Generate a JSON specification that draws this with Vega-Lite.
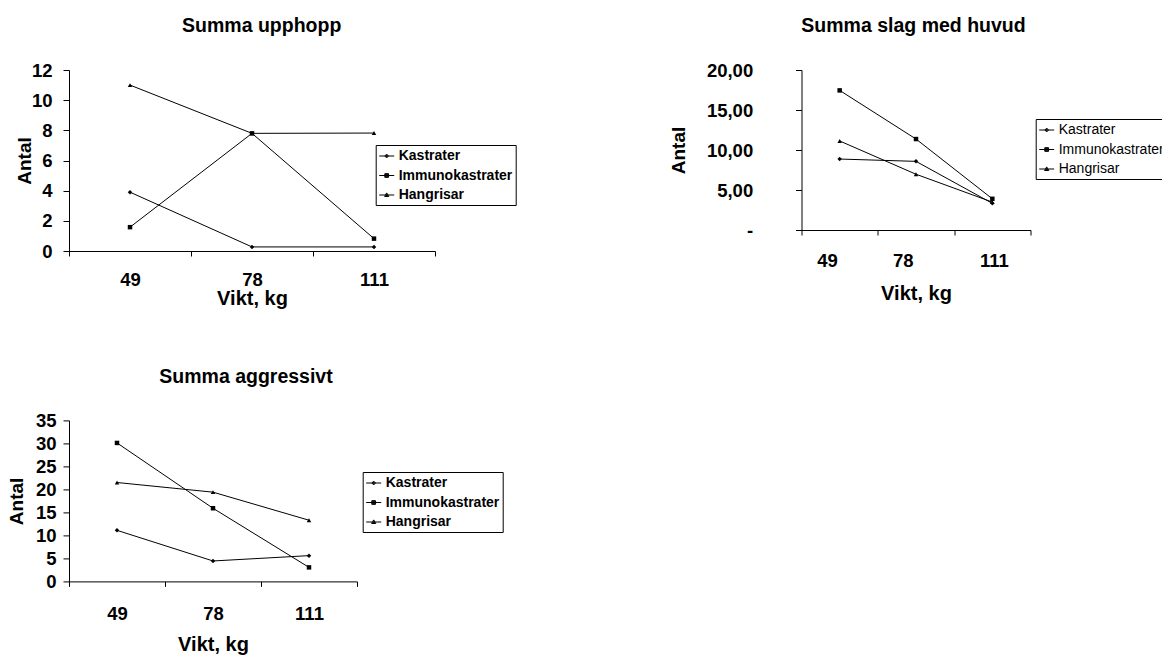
{
  "$schema": "https://vega.github.io/schema/vega-lite/v6.json",
  "background": "white",
  "padding": {"left": 7, "top": 15, "right": 0, "bottom": 0},
  "bounds": "flush",
  "spacing": 732.5,
  "resolve": {"scale": {"shape": "independent"}, "legend": {"shape": "independent"}},
  "config": {
    "font": "Liberation Sans",
    "view": {"stroke": null},
    "axis": {
      "domainColor": "#000", "tickColor": "#000", "labelColor": "#000", "titleColor": "#000",
      "domainWidth": 1, "tickWidth": 1, "grid": false,
      "labelFont": "Liberation Sans", "titleFont": "Liberation Sans",
      "labelFontWeight": "bold", "titleFontWeight": "bold",
      "labelFontSize": 18.5, "labelOverlap": false
    },
    "axisX": {"tickSize": 5, "titleFontSize": 20},
    "axisY": {"tickSize": 6, "titleFontSize": 19},
    "legend": {
      "orient": "none", "title": null,
      "strokeColor": "#000", "fillColor": "#fff", "padding": 3,
      "symbolSize": 225, "rowPadding": 4.5, "labelOffset": 4,
      "symbolStrokeWidth": 1,
      "labelFontSize": 14, "labelColor": "#000", "labelFont": "Liberation Sans",
      "labelBaseline": "middle", "labelLimit": 300
    }
  },
  "datasets": {
    "upphopp": [
      {"vikt": 49, "grupp": "Kastrater", "antal": 3.9},
      {"vikt": 78, "grupp": "Kastrater", "antal": 0.27},
      {"vikt": 111, "grupp": "Kastrater", "antal": 0.27},
      {"vikt": 49, "grupp": "Immunokastrater", "antal": 1.58},
      {"vikt": 78, "grupp": "Immunokastrater", "antal": 7.8},
      {"vikt": 111, "grupp": "Immunokastrater", "antal": 0.82},
      {"vikt": 49, "grupp": "Hangrisar", "antal": 11.0},
      {"vikt": 78, "grupp": "Hangrisar", "antal": 7.8},
      {"vikt": 111, "grupp": "Hangrisar", "antal": 7.82}
    ],
    "slag": [
      {"vikt": 49, "grupp": "Kastrater", "antal": 8.87},
      {"vikt": 78, "grupp": "Kastrater", "antal": 8.58},
      {"vikt": 111, "grupp": "Kastrater", "antal": 3.33},
      {"vikt": 49, "grupp": "Immunokastrater", "antal": 17.45},
      {"vikt": 78, "grupp": "Immunokastrater", "antal": 11.37},
      {"vikt": 111, "grupp": "Immunokastrater", "antal": 3.9},
      {"vikt": 49, "grupp": "Hangrisar", "antal": 11.13},
      {"vikt": 78, "grupp": "Hangrisar", "antal": 6.97},
      {"vikt": 111, "grupp": "Hangrisar", "antal": 3.49}
    ],
    "aggressivt": [
      {"vikt": 49, "grupp": "Kastrater", "antal": 11.1},
      {"vikt": 78, "grupp": "Kastrater", "antal": 4.44},
      {"vikt": 111, "grupp": "Kastrater", "antal": 5.6},
      {"vikt": 49, "grupp": "Immunokastrater", "antal": 30.1},
      {"vikt": 78, "grupp": "Immunokastrater", "antal": 15.9},
      {"vikt": 111, "grupp": "Immunokastrater", "antal": 3.05},
      {"vikt": 49, "grupp": "Hangrisar", "antal": 21.5},
      {"vikt": 78, "grupp": "Hangrisar", "antal": 19.4},
      {"vikt": 111, "grupp": "Hangrisar", "antal": 13.3}
    ]
  },
  "hconcat": [
    {
      "bounds": "flush",
      "spacing": 169.4,
      "resolve": {"scale": {"shape": "independent"}, "legend": {"shape": "independent"}},
      "vconcat": [
        {
          "width": 366, "height": 181,
          "title": {"text": "Summa upphopp", "font": "Liberation Sans", "fontSize": 19.5, "fontWeight": "bold", "color": "#000", "anchor": "middle", "frame": "group", "baseline": "alphabetic", "offset": 9.5, "dx": 9.7},
          "data": {"name": "upphopp"},
          "encoding": {
            "x": {"field": "vikt", "type": "ordinal", "scale": {"type": "band", "paddingInner": 0, "paddingOuter": 0},
                  "axis": {"title": "Vikt, kg", "labelAngle": 0, "tickBand": "extent", "labelPadding": 14, "titlePadding": 0}},
            "y": {"field": "antal", "type": "quantitative", "scale": {"domain": [0, 12], "nice": false, "zero": true},
                  "axis": {"title": "Antal", "values": [0, 2, 4, 6, 8, 10, 12], "labelPadding": 11, "titlePadding": -3}}
          },
          "resolve": {"scale": {"shape": "independent"}},
          "layer": [
            {"mark": {"type": "line", "color": "#000", "strokeWidth": 1}, "encoding": {"detail": {"field": "grupp"}}},
            {"mark": {"type": "point", "filled": true, "color": "#000", "size": 20, "opacity": 1},
             "encoding": {"shape": {"field": "grupp", "type": "nominal",
               "scale": {"domain": ["Kastrater", "Immunokastrater", "Hangrisar"], "range": ["diamond", "square", "triangle-up"]},
               "legend": null}}},
            {"transform": [{"filter": "false"}],
             "mark": {"type": "point", "filled": false, "color": "#000", "strokeWidth": 1, "opacity": 1},
             "encoding": {"shape": {"field": "grupp", "type": "nominal",
               "scale": {"domain": ["Kastrater", "Immunokastrater", "Hangrisar"], "range": ["M-1,0H1M-0.25,0L0,-0.25L0.25,0L0,0.25ZM-0.12,-0.1H0.12M-0.12,0.1H0.12", "M-1,0H1M-0.25,-0.25H0.25V0.25H-0.25ZM-0.25,-0.12H0.25M-0.25,0.12H0.25", "M-1,0H1M-0.28,0.2L0,-0.28L0.28,0.2ZM-0.15,0.08H0.15M-0.07,-0.08H0.07"]},
               "legend": {"legendX": 306.7, "legendY": 75, "labelFontWeight": "bold"}}}}
          ]
        },
        {
          "width": 288, "height": 161,
          "title": {"text": "Summa aggressivt", "font": "Liberation Sans", "fontSize": 19.5, "fontWeight": "bold", "color": "#000", "anchor": "middle", "frame": "group", "baseline": "alphabetic", "offset": 9, "dx": 33},
          "data": {"name": "aggressivt"},
          "encoding": {
            "x": {"field": "vikt", "type": "ordinal", "scale": {"type": "band", "paddingInner": 0, "paddingOuter": 0},
                  "axis": {"title": "Vikt, kg", "labelAngle": 0, "tickBand": "extent", "labelPadding": 18, "titlePadding": 11.7}},
            "y": {"field": "antal", "type": "quantitative", "scale": {"domain": [0, 35], "nice": false, "zero": true},
                  "axis": {"title": "Antal", "values": [0, 5, 10, 15, 20, 25, 30, 35], "labelPadding": 7, "titlePadding": 9}}
          },
          "resolve": {"scale": {"shape": "independent"}},
          "layer": [
            {"mark": {"type": "line", "color": "#000", "strokeWidth": 1}, "encoding": {"detail": {"field": "grupp"}}},
            {"mark": {"type": "point", "filled": true, "color": "#000", "size": 20, "opacity": 1},
             "encoding": {"shape": {"field": "grupp", "type": "nominal",
               "scale": {"domain": ["Kastrater", "Immunokastrater", "Hangrisar"], "range": ["diamond", "square", "triangle-up"]},
               "legend": null}}},
            {"transform": [{"filter": "false"}],
             "mark": {"type": "point", "filled": false, "color": "#000", "strokeWidth": 1, "opacity": 1},
             "encoding": {"shape": {"field": "grupp", "type": "nominal",
               "scale": {"domain": ["Kastrater", "Immunokastrater", "Hangrisar"], "range": ["M-1,0H1M-0.25,0L0,-0.25L0.25,0L0,0.25ZM-0.12,-0.1H0.12M-0.12,0.1H0.12", "M-1,0H1M-0.25,-0.25H0.25V0.25H-0.25ZM-0.25,-0.12H0.25M-0.25,0.12H0.25", "M-1,0H1M-0.28,0.2L0,-0.28L0.28,0.2ZM-0.15,0.08H0.15M-0.07,-0.08H0.07"]},
               "legend": {"legendX": 293.7, "legendY": 51.6, "labelFontWeight": "bold"}}}}
          ]
        }
      ]
    },
    {
      "width": 229, "height": 160,
      "title": {"text": "Summa slag med huvud", "font": "Liberation Sans", "fontSize": 19.5, "fontWeight": "bold", "color": "#000", "anchor": "middle", "frame": "group", "baseline": "alphabetic", "offset": 10, "dx": -2.5},
      "data": {"name": "slag"},
      "encoding": {
        "x": {"field": "vikt", "type": "ordinal", "scale": {"type": "band", "paddingInner": 0, "paddingOuter": 0},
              "axis": {"title": "Vikt, kg", "labelAngle": 0, "tickBand": "extent", "labelPadding": 16, "titlePadding": 14,
                       "labelOffset": {"condition": [{"test": "datum.value === 49", "value": -12.7}, {"test": "datum.value === 78", "value": -13.3}], "value": 1.5}}},
        "y": {"field": "antal", "type": "quantitative", "scale": {"domain": [0, 20], "nice": false, "zero": true},
              "axis": {"title": "Antal", "values": [0, 5, 10, 15, 20], "labelPadding": 42.8, "titlePadding": 18,
                       "labelExpr": "datum.value === 0 ? '-\u00a0\u00a0\u00a0\u00a0' : replace(format(datum.value, '.2f'), '.', ',')"}}
      },
      "resolve": {"scale": {"shape": "independent"}},
      "layer": [
        {"mark": {"type": "line", "color": "#000", "strokeWidth": 1}, "encoding": {"detail": {"field": "grupp"}}},
        {"mark": {"type": "point", "filled": true, "color": "#000", "size": 20, "opacity": 1},
         "encoding": {"shape": {"field": "grupp", "type": "nominal",
           "scale": {"domain": ["Kastrater", "Immunokastrater", "Hangrisar"], "range": ["diamond", "square", "triangle-up"]},
           "legend": null}}},
        {"transform": [{"filter": "false"}],
         "mark": {"type": "point", "filled": false, "color": "#000", "strokeWidth": 1, "opacity": 1},
         "encoding": {"shape": {"field": "grupp", "type": "nominal",
           "scale": {"domain": ["Kastrater", "Immunokastrater", "Hangrisar"], "range": ["M-1,0H1M-0.25,0L0,-0.25L0.25,0L0,0.25ZM-0.12,-0.1H0.12M-0.12,0.1H0.12", "M-1,0H1M-0.25,-0.25H0.25V0.25H-0.25ZM-0.25,-0.12H0.25M-0.25,0.12H0.25", "M-1,0H1M-0.28,0.2L0,-0.28L0.28,0.2ZM-0.15,0.08H0.15M-0.07,-0.08H0.07"]},
           "legend": {"legendX": 234.2, "legendY": 49, "labelFontWeight": "normal"}}}}
      ]
    }
  ]
}
